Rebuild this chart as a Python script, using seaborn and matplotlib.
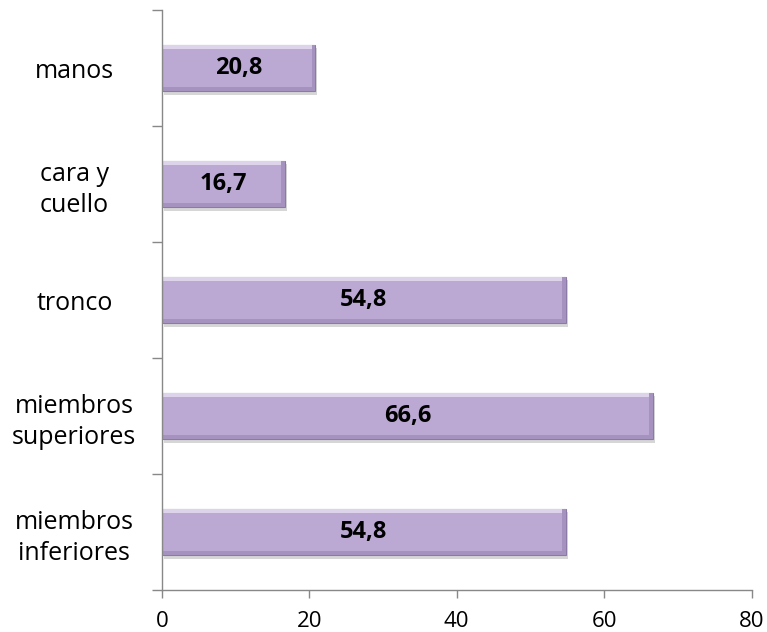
import numpy as np
import pandas as pd
import matplotlib
matplotlib.use("Agg")
import matplotlib.pyplot as plt
import seaborn as sns
from matplotlib.patches import Rectangle

# data
zonas = ["manos", "cara y\ncuello", "tronco", "miembros\nsuperiores", "miembros\ninferiores"]
porcentaje = [20.8, 16.7, 54.8, 66.6, 54.8]
etiquetas = ["20,8", "16,7", "54,8", "66,6", "54,8"]
x_ticks = [0, 20, 40, 60, 80]

df = pd.DataFrame({"zona": zonas, "valor": porcentaje})

sns.set_style("white")
plt.rcParams["font.family"] = ["Open Sans", "DejaVu Sans"]

fig = plt.figure(figsize=(7.67, 6.32), dpi=100)
ax = fig.add_axes([0.211, 0.0665, 0.769, 0.9175])

bar_color = "#bba9d4"
sns.barplot(data=df, x="valor", y="zona", orient="h", color=bar_color,
            width=0.4, saturation=1, ax=ax, edgecolor="#8c7aa6", linewidth=0.8)

# fake bevel: light strip on top, darker strip on bottom/right, plus a soft shadow
for p in list(ax.patches):
    x0, y0 = p.get_x(), p.get_y()
    w, h = p.get_width(), p.get_height()
    z = p.get_zorder()
    ax.add_patch(Rectangle((x0 + 0.3, y0 + 0.03), w, h, facecolor="#d6d6d6",
                           edgecolor="none", zorder=z - 0.1))
    ax.add_patch(Rectangle((x0, y0), w, h * 0.09, facecolor="#ddd3ea",
                           edgecolor="none", zorder=z + 0.1))
    ax.add_patch(Rectangle((x0, y0 + h * 0.91), w, h * 0.09, facecolor="#a592bf",
                           edgecolor="none", zorder=z + 0.1))
    ax.add_patch(Rectangle((x0 + w - 0.5, y0), 0.5, h, facecolor="#a592bf",
                           edgecolor="none", zorder=z + 0.1))

for i, (v, t) in enumerate(zip(porcentaje, etiquetas)):
    ax.text(v / 2, i, t, ha="center", va="center", fontsize=17,
            fontweight="bold", color="black", zorder=5)

ax.set_xlim(0, 80)
ax.set_ylim(len(zonas) - 0.5, -0.5)
ax.set_xticks(x_ticks)
ax.set_xticklabels([str(t) for t in x_ticks])
ax.set_yticks(range(len(zonas)))
ax.set_yticklabels(zonas, ha="center", color="black", linespacing=1.3)
ax.set_yticks(np.arange(-0.5, len(zonas), 1.0), minor=True)
ax.tick_params(axis="y", which="both", left=True)
ax.tick_params(axis="x", which="both", bottom=True)
ax.tick_params(axis="y", which="major", length=0, pad=63, labelsize=18)
ax.tick_params(axis="y", which="minor", length=7, color="#888888", width=1)
ax.tick_params(axis="x", which="major", length=6, color="#888888", width=1, pad=9,
               labelcolor="black", labelsize=16)
ax.set_xlabel("")
ax.set_ylabel("")

for s in ["top", "right"]:
    ax.spines[s].set_visible(False)
for s in ["left", "bottom"]:
    ax.spines[s].set_color("#888888")
    ax.spines[s].set_linewidth(1)

fig.savefig("out.png", dpi=100)
